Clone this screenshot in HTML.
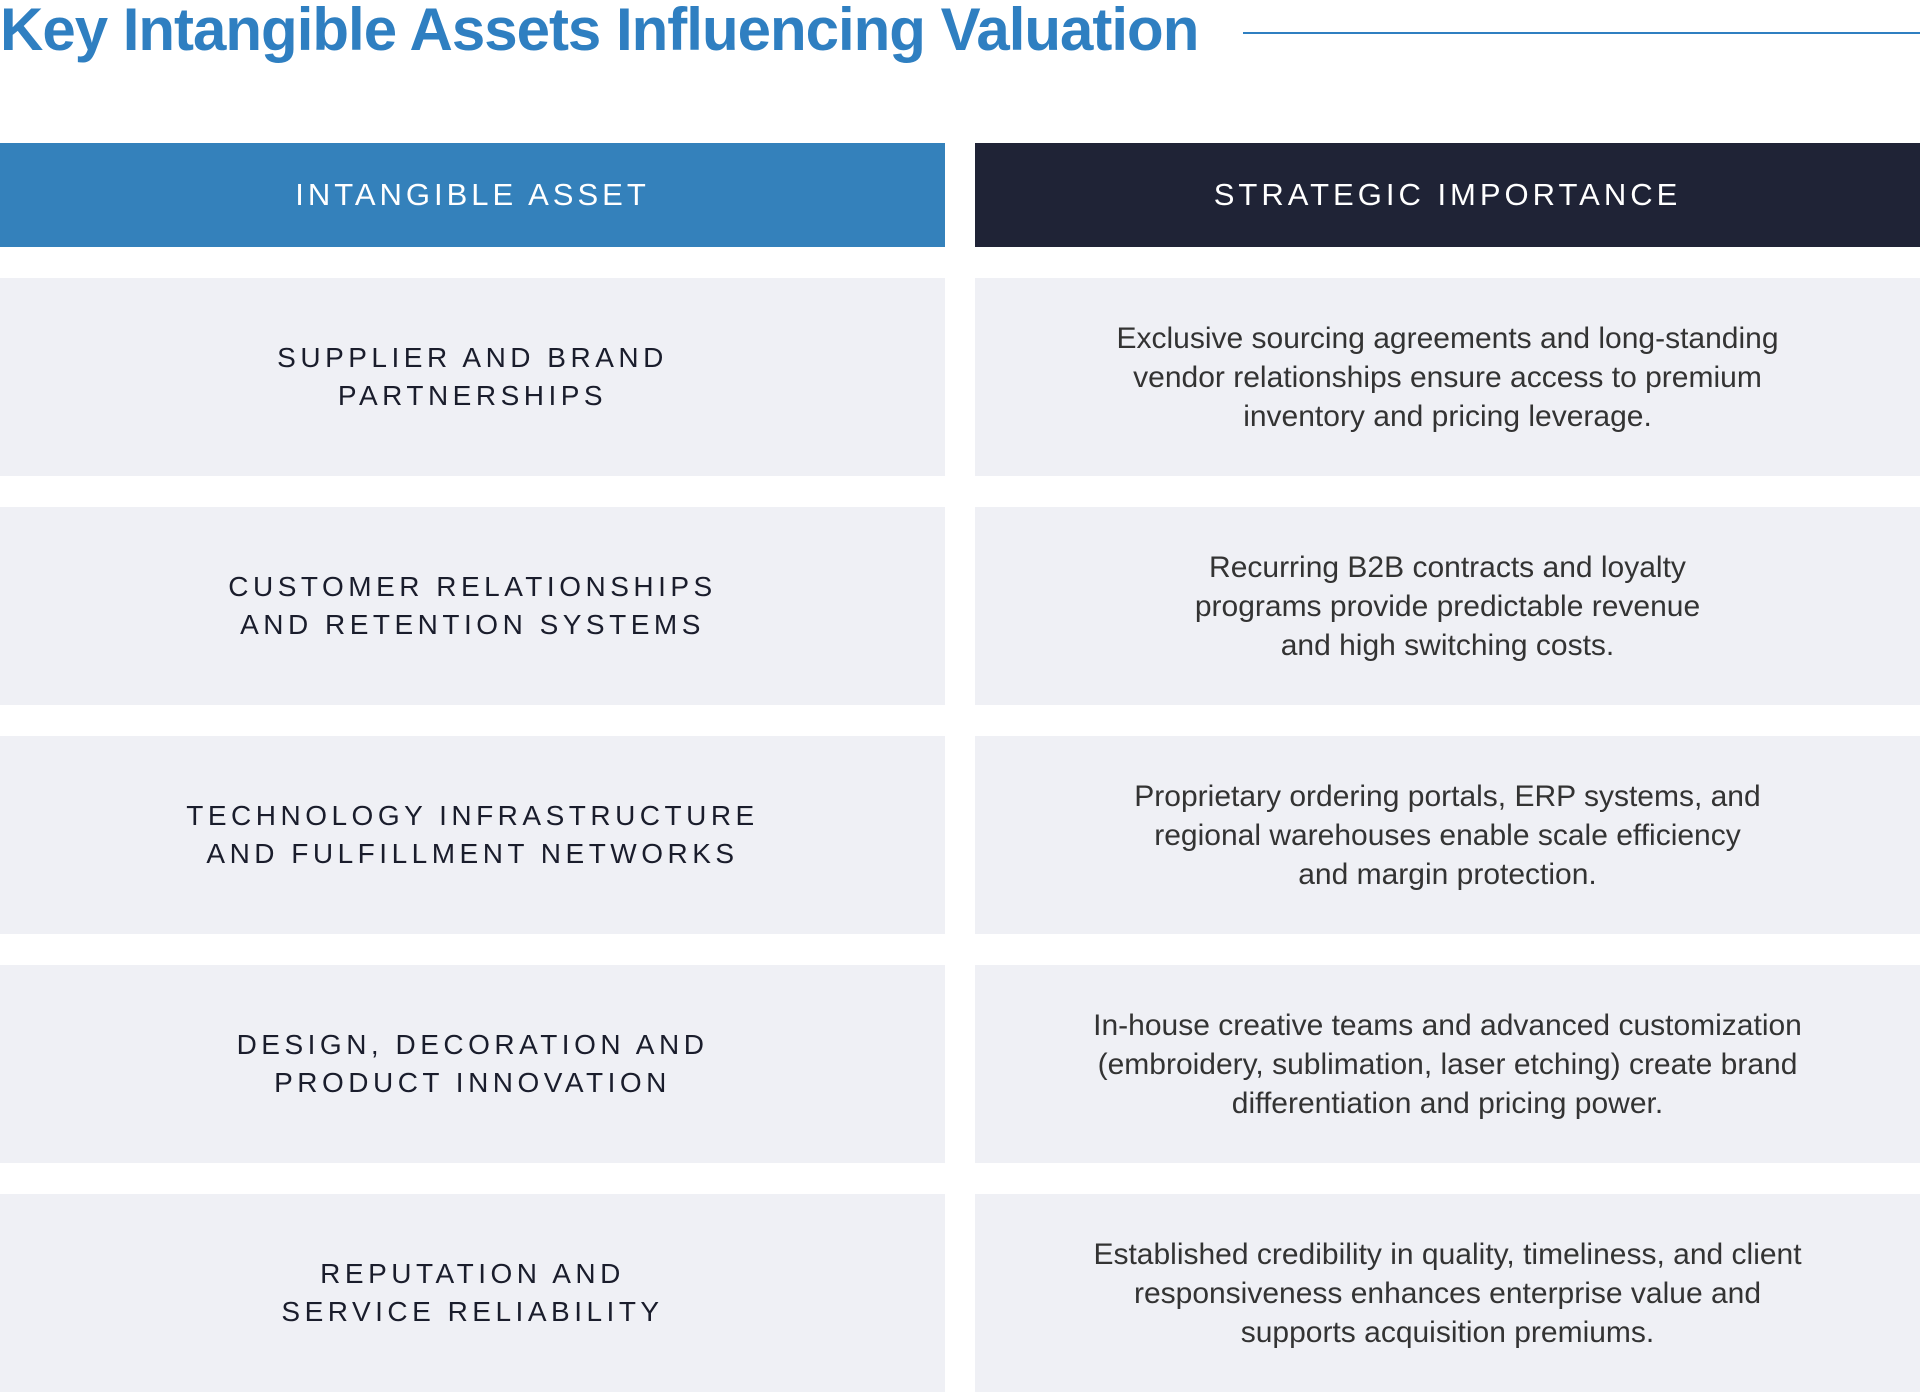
<!DOCTYPE html>
<html><head><meta charset="utf-8"><style>
html,body{margin:0;padding:0;background:#fff;}
body{width:1920px;height:1392px;position:relative;overflow:hidden;font-family:"Liberation Sans",sans-serif;}
.title{position:absolute;left:0;top:-5px;font-size:60px;font-weight:bold;color:#2f7fc1;letter-spacing:-1px;white-space:nowrap;}
.line{position:absolute;left:1243px;top:32px;width:677px;height:2px;background:#2f7fc1;}
.cell{position:absolute;display:flex;align-items:center;justify-content:center;text-align:center;white-space:nowrap;}
.h{top:143px;height:104px;color:#fff;font-size:31px;letter-spacing:4px;}
.l{left:0;width:945px;background:#eff0f5;color:#1a1d2c;font-size:28px;letter-spacing:4.5px;line-height:38px;}
.r{left:975px;width:945px;background:#eff0f5;color:#333;font-size:30px;line-height:39px;}
</style></head><body>
<div class="title">Key Intangible Assets Influencing Valuation</div>
<div class="line"></div>
<div class="cell h" style="left:0;width:945px;background:#3481bb;">INTANGIBLE ASSET</div>
<div class="cell h" style="left:975px;width:945px;background:#1f2336;">STRATEGIC IMPORTANCE</div>

<div class="cell l" style="top:278px;height:198px;">SUPPLIER AND BRAND<br>PARTNERSHIPS</div>
<div class="cell r" style="top:278px;height:198px;">Exclusive sourcing agreements and long-standing<br>vendor relationships ensure access to premium<br>inventory and pricing leverage.</div>

<div class="cell l" style="top:507px;height:198px;">CUSTOMER RELATIONSHIPS<br>AND RETENTION SYSTEMS</div>
<div class="cell r" style="top:507px;height:198px;">Recurring B2B contracts and loyalty<br>programs provide predictable revenue<br>and high switching costs.</div>

<div class="cell l" style="top:736px;height:198px;">TECHNOLOGY INFRASTRUCTURE<br>AND FULFILLMENT NETWORKS</div>
<div class="cell r" style="top:736px;height:198px;">Proprietary ordering portals, ERP systems, and<br>regional warehouses enable scale efficiency<br>and margin protection.</div>

<div class="cell l" style="top:965px;height:198px;">DESIGN, DECORATION AND<br>PRODUCT INNOVATION</div>
<div class="cell r" style="top:965px;height:198px;">In-house creative teams and advanced customization<br>(embroidery, sublimation, laser etching) create brand<br>differentiation and pricing power.</div>

<div class="cell l" style="top:1194px;height:198px;">REPUTATION AND<br>SERVICE RELIABILITY</div>
<div class="cell r" style="top:1194px;height:198px;">Established credibility in quality, timeliness, and client<br>responsiveness enhances enterprise value and<br>supports acquisition premiums.</div>
</body></html>
